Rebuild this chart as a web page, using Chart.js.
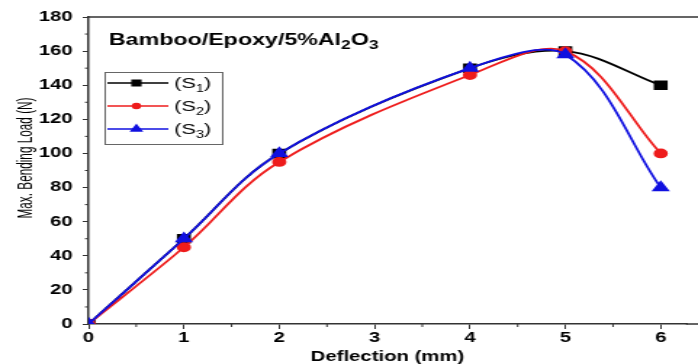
<!DOCTYPE html>
<html>
<head>
<meta charset="utf-8">
<script src="https://cdn.jsdelivr.net/npm/chart.js@4.4.1/dist/chart.umd.min.js"></script>
<style>
    html, body { margin: 0; background: #fff; overflow: hidden; }
    #wrap { width: 698px; height: 364px; overflow: hidden; }
</style>
</head>
<body>
<div id="wrap"><canvas id="chart" width="481" height="364" style="width:698px;height:364px;display:block"></canvas></div>
<script>
// Deflection (mm) vs load (N) for the three samples
const deflection = [0, 1, 2, 4, 5, 6];
const loadS1 = [0, 50, 100, 150, 160, 140];
const loadS2 = [0, 45, 95, 146, 160, 100];
const loadS3 = [0, 50, 100, 150, 158, 80];
const sampleSubs = ['1', '2', '3'];

const xTicks = [0, 1, 2, 3, 4, 5, 6];
const yTicks = [0, 20, 40, 60, 80, 100, 120, 140, 160, 180];

const AXIS = '#333';
const FONT = '"Liberation Sans", Arial, sans-serif';

function toPoints(ys) {
    return deflection.map((x, i) => ({ x: x, y: ys[i] }));
}

// text with subscript pieces: [text, isSub]
function drawRich(ctx, x, y, parts, size, subSize, weight) {
    ctx.textBaseline = 'alphabetic';
    ctx.textAlign = 'left';
    parts.forEach(([t, sub]) => {
        ctx.font = `${weight} ${sub ? subSize : size}px ${FONT}`;
        ctx.fillText(t, x, sub ? y + 4 : y);
        x += ctx.measureText(t).width;
    });
}

const decorPlugin = {
    id: 'decor',
    afterDraw(chart) {
        const ctx = chart.ctx;
        const area = chart.chartArea;
        const xs = chart.scales.x, ys = chart.scales.y;
        ctx.save();

        // top frame line, and the axis frame running on to the right edge
        ctx.strokeStyle = AXIS;
        ctx.lineWidth = 1.5;
        ctx.beginPath();
        ctx.moveTo(area.left, area.top);
        ctx.lineTo(chart.width, area.top);
        ctx.moveTo(area.right - 1, area.bottom);
        ctx.lineTo(chart.width, area.bottom);
        ctx.stroke();

        // minor ticks
        ctx.lineWidth = 1;
        ctx.beginPath();
        for (let v = 0.5; v < 6.6; v += 1) {
            const px = xs.getPixelForValue(v);
            ctx.moveTo(px, area.bottom);
            ctx.lineTo(px, area.bottom + 3);
        }
        for (let v = 10; v < 180; v += 20) {
            const py = ys.getPixelForValue(v);
            ctx.moveTo(area.left, py);
            ctx.lineTo(area.left - 2.5, py);
        }
        ctx.stroke();

        // title inside the plot
        ctx.fillStyle = '#000';
        drawRich(ctx, 75, 45, [['Bamboo/Epoxy/5%Al', false], ['2', true], ['O', false], ['3', true]], 16, 12, 'bold');

        // legend
        ctx.strokeStyle = '#666';
        ctx.lineWidth = 1;
        ctx.strokeRect(72.5, 72.5, 81, 72);
        chart.data.datasets.forEach((ds, i) => {
            const y = 83 + i * 23;
            ctx.strokeStyle = ds.borderColor;
            ctx.lineWidth = 1.5;
            ctx.beginPath();
            ctx.moveTo(74, y);
            ctx.lineTo(116, y);
            ctx.stroke();
            ctx.fillStyle = ds.backgroundColor;
            Chart.helpers.drawPoint(ctx, {
                pointStyle: ds.pointStyle,
                radius: ds.pointRadius - 1.5,
                rotation: 0,
                borderWidth: 1
            }, 94, y);
            ctx.fillStyle = '#000';
            drawRich(ctx, 120, y + 5, [['(S', false], [sampleSubs[i], true], [')', false]], 15, 10, 'normal');
        });

        // axis titles
        ctx.fillStyle = '#000';
        ctx.font = `bold 14px ${FONT}`;
        ctx.textAlign = 'center';
        ctx.textBaseline = 'alphabetic';
        ctx.fillText('Deflection (mm)', 267, 361);

        // narrow lettering for the load axis
        ctx.translate(18.5, 158);
        ctx.rotate(-Math.PI / 2);
        ctx.scale(0.84, 1);
        ctx.font = `14px ${FONT}`;
        ctx.textBaseline = 'middle';
        ctx.fillText('Max. Bending Load (N)', 0, 0);
        ctx.restore();
    }
};

function series(label, ys, color, style, radius, order) {
    return {
        label: label,
        data: toPoints(ys),
        borderColor: color,
        backgroundColor: color,
        pointBackgroundColor: color,
        pointBorderColor: color,
        pointStyle: style,
        pointRadius: radius,
        borderWidth: 1.8,
        tension: 0.35,
        order: order
    };
}

new Chart(document.getElementById('chart'), {
    type: 'line',
    data: {
        datasets: [
            series('(S1)', loadS1, '#000000', 'rect', 5.5, 2),
            series('(S2)', loadS2, '#ee1c1c', 'circle', 4, 1),
            series('(S3)', loadS3, '#1010e0', 'triangle', 5.5, 0)
        ]
    },
    options: {
        responsive: false,
        devicePixelRatio: 1,
        animation: false,
        layout: { padding: { top: 17, right: 0, left: 0, bottom: 0 } },
        plugins: {
            legend: { display: false },
            tooltip: { enabled: false }
        },
        scales: {
            x: {
                type: 'linear',
                min: 0,
                max: 6.28,
                afterBuildTicks: s => { s.ticks = xTicks.map(v => ({ value: v })); },
                afterFit: s => { s.height = 40; },
                grid: { drawOnChartArea: false, tickLength: 5, tickColor: AXIS, tickWidth: 1 },
                border: { color: AXIS, width: 1.5 },
                ticks: {
                    color: '#000',
                    padding: 1,
                    maxRotation: 0,
                    font: { family: FONT, size: 14, weight: 'bold' }
                }
            },
            y: {
                min: 0,
                max: 180,
                afterBuildTicks: s => { s.ticks = yTicks.map(v => ({ value: v })); },
                afterFit: s => { s.width = 61; },
                grid: { drawOnChartArea: false, tickLength: 4, tickColor: AXIS, tickWidth: 1 },
                border: { color: AXIS, width: 1.5 },
                ticks: {
                    color: '#000',
                    padding: 7,
                    font: { family: FONT, size: 14, weight: 'bold' }
                }
            }
        }
    },
    plugins: [decorPlugin]
});
</script>
</body>
</html>
